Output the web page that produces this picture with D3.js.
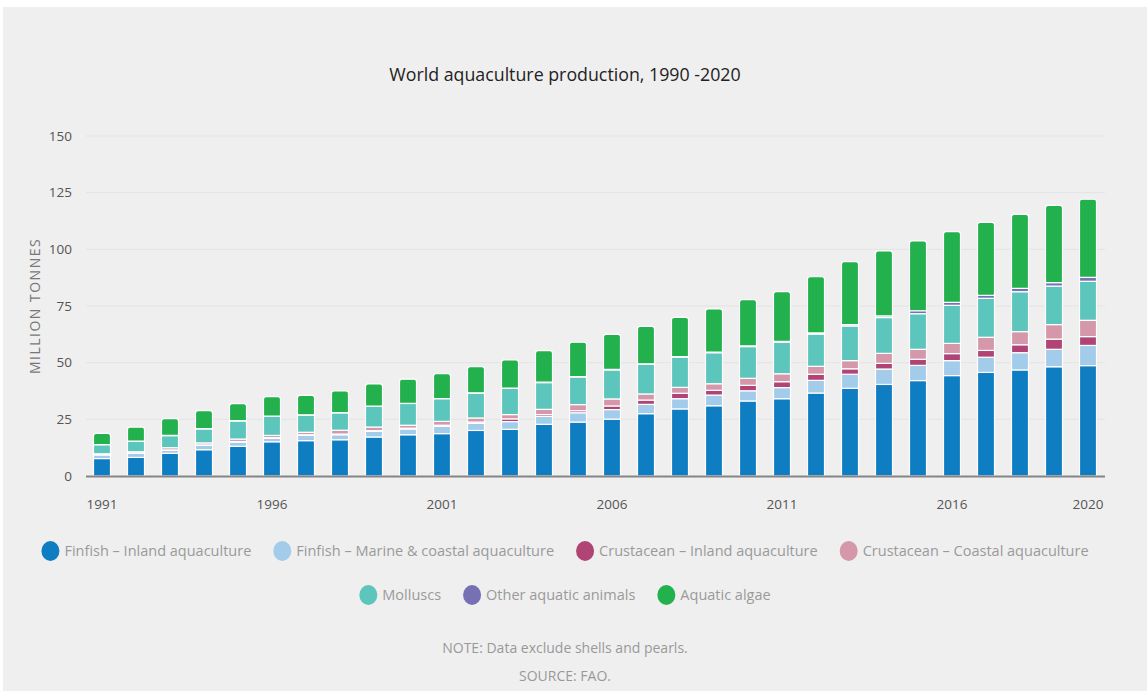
<!DOCTYPE html>
<html>
<head>
<meta charset="utf-8">
<script src="https://cdn.jsdelivr.net/npm/d3@7"></script>
<style>
  html, body { margin: 0; padding: 0; background: #fff; }
  svg { display: block; }
  text { font-family: "Open Sans", "DejaVu Sans", sans-serif; }
</style>
</head>
<body>
<svg id="chart" width="1147" height="691"></svg>
<script>
// years shown on the x axis
const years = d3.range(1991, 2021);
const tickYears = [1991, 1996, 2001, 2006, 2011, 2016, 2020];
const yTicks = [0, 25, 50, 75, 100, 125, 150];

// million tonnes
const finfishInland = [7.7, 8.2, 10.0, 11.6, 13.1, 15.1, 15.6, 16.0, 17.2, 18.2,
  18.7, 20.1, 20.6, 22.8, 23.8, 25.1, 27.5, 29.6, 31.0, 33.1,
  34.1, 36.6, 38.7, 40.4, 42.1, 44.3, 45.7, 46.8, 48.2, 48.7];
const finfishMarine = [1.6, 1.8, 1.3, 1.9, 1.9, 1.5, 2.3, 2.2, 2.5, 2.5,
  3.2, 3.1, 3.4, 3.5, 4.1, 4.2, 4.1, 4.5, 4.7, 4.5,
  4.9, 5.6, 6.2, 6.8, 6.7, 6.6, 6.7, 7.6, 7.7, 8.9];
const crustInland = [0.1, 0.1, 0.2, 0.2, 0.2, 0.3, 0.3, 0.3, 0.3, 0.4,
  0.5, 0.6, 1.2, 0.8, 0.9, 1.6, 1.9, 2.4, 2.1, 2.4,
  2.6, 2.7, 2.4, 2.5, 2.7, 3.1, 3.0, 3.5, 4.5, 3.9];
const crustCoastal = [0.4, 0.6, 1.0, 0.9, 1.1, 1.0, 1.1, 1.7, 1.6, 1.3,
  1.7, 1.8, 1.9, 2.3, 2.7, 3.1, 2.7, 2.6, 2.9, 3.1,
  3.5, 3.5, 3.6, 4.4, 4.4, 4.5, 5.8, 5.8, 6.4, 7.2];
const molluscs = [4.0, 4.6, 5.3, 6.2, 8.0, 8.4, 7.6, 7.7, 9.1, 9.6,
  10.0, 11.0, 11.6, 11.8, 12.2, 12.8, 13.1, 13.4, 13.7, 14.0,
  13.9, 14.2, 15.3, 15.8, 15.7, 16.8, 17.2, 17.6, 17.0, 17.2];
const otherAnimals = [0.1, 0.1, 0.1, 0.1, 0.1, 0.1, 0.1, 0.1, 0.1, 0.1,
  0.1, 0.1, 0.1, 0.2, 0.2, 0.2, 0.2, 0.2, 0.3, 0.3,
  0.4, 0.5, 0.6, 0.7, 1.3, 1.3, 1.3, 1.5, 1.5, 1.7];
const algae = [4.9, 6.2, 7.4, 7.9, 7.5, 8.6, 8.6, 9.5, 9.8, 10.6,
  10.9, 11.5, 12.4, 13.9, 15.1, 15.5, 16.5, 17.3, 19.0, 20.4,
  21.9, 24.8, 27.8, 28.7, 30.8, 31.2, 32.2, 32.6, 34.1, 34.5];

const seriesNames = [
  "Finfish – Inland aquaculture",
  "Finfish – Marine & coastal aquaculture",
  "Crustacean – Inland aquaculture",
  "Crustacean – Coastal aquaculture",
  "Molluscs",
  "Other aquatic animals",
  "Aquatic algae"
];
const seriesValues = [finfishInland, finfishMarine, crustInland, crustCoastal, molluscs, otherAnimals, algae];
const colors = ["#0f7dc2", "#a3cbea", "#b04474", "#d498aa", "#5cc5bc", "#7670b4", "#22b14c"];

// table for d3.stack
const table = years.map((yr, i) => {
  let row = { year: yr };
  seriesNames.forEach((name, k) => { row[name] = seriesValues[k][i]; });
  return row;
});

const svg = d3.select("#chart");

svg.append("rect")
  .attr("x", 3).attr("y", 7)
  .attr("width", 1144).attr("height", 684)
  .attr("fill", "#efefef");

svg.append("text")
  .attr("x", 565).attr("y", 81)
  .attr("text-anchor", "middle")
  .style("font-size", "17.8px")
  .style("fill", "#222")
  .text("World aquaculture production, 1990 -2020");

const x = d3.scaleBand()
  .domain(years)
  .range([85, 1105])
  .paddingInner(0.5)
  .paddingOuter(0.25);

const y = d3.scaleLinear()
  .domain([0, 150])
  .range([476, 136]);

// gridlines
svg.append("g")
  .selectAll("line")
  .data(yTicks.slice(1))
  .join("line")
  .attr("x1", 86).attr("x2", 1105)
  .attr("y1", d => y(d)).attr("y2", d => y(d))
  .attr("stroke", "#e3e3e3")
  .attr("stroke-width", 1);

// y axis labels
const yAxis = svg.append("g")
  .attr("transform", "translate(76,0)")
  .call(d3.axisLeft(y).tickValues(yTicks).tickSize(0).tickPadding(4));
yAxis.select(".domain").remove();
yAxis.selectAll("text")
  .style("font-size", "13.5px")
  .style("fill", "#555")
  .style("font-family", "'Open Sans', sans-serif");

svg.append("text")
  .attr("transform", "translate(40,306) rotate(-90)")
  .attr("text-anchor", "middle")
  .style("font-size", "14px")
  .style("letter-spacing", "1.5px")
  .style("fill", "#777")
  .text("MILLION TONNES");

// stacked bars
const stacked = d3.stack().keys(seriesNames)(table);
const topKey = seriesNames.length - 1;

function roundTop(x0, y0, w, h, r) {
  r = Math.min(r, h);
  return `M${x0},${y0 + h}V${y0 + r}Q${x0},${y0} ${x0 + r},${y0}H${x0 + w - r}Q${x0 + w},${y0} ${x0 + w},${y0 + r}V${y0 + h}Z`;
}

stacked.forEach((layer, k) => {
  const g = svg.append("g").attr("fill", colors[k]);
  if (k === topKey) {
    g.selectAll("path")
      .data(layer)
      .join("path")
      .attr("d", d => roundTop(x(d.data.year), y(d[1]), x.bandwidth(), y(d[0]) - y(d[1]), 2.5))
      .attr("stroke", "#fff")
      .attr("stroke-width", 1.2);
  } else {
    g.selectAll("rect")
      .data(layer)
      .join("rect")
      .attr("x", d => x(d.data.year))
      .attr("y", d => y(d[1]))
      .attr("width", x.bandwidth())
      .attr("height", d => Math.max(0, y(d[0]) - y(d[1])))
      .attr("stroke", "#fff")
      .attr("stroke-width", 1.2);
  }
});

// baseline
svg.append("line")
  .attr("x1", 86).attr("x2", 1105)
  .attr("y1", y(0) + 0.5).attr("y2", y(0) + 0.5)
  .attr("stroke", "#858585")
  .attr("stroke-width", 2);

// x axis labels
svg.append("g")
  .selectAll("text")
  .data(tickYears)
  .join("text")
  .attr("x", d => x(d) + x.bandwidth() / 2)
  .attr("y", 509)
  .attr("text-anchor", "middle")
  .style("font-size", "13.5px")
  .style("fill", "#555")
  .text(d => d);

// legend, two centred rows
const legendRows = [[0, 1, 2, 3], [4, 5, 6]];
const legendY = [551, 595];

legendRows.forEach((row, r) => {
  const g = svg.append("g");
  let offset = 0;
  row.forEach((k, j) => {
    const item = g.append("g").attr("transform", `translate(${offset},0)`);
    item.append("ellipse")
      .attr("cx", 9).attr("cy", 0)
      .attr("rx", 9).attr("ry", 10)
      .attr("fill", colors[k]);
    const t = item.append("text")
      .attr("x", 23).attr("y", 5)
      .style("font-size", "14.5px")
      .style("fill", "#9a9a9a")
      .text(seriesNames[k]);
    offset += 23 + t.node().getComputedTextLength() + 22;
  });
  const total = offset - 22;
  g.attr("transform", `translate(${565 - total / 2},${legendY[r]})`);
});

svg.append("text")
  .attr("x", 565).attr("y", 653)
  .attr("text-anchor", "middle")
  .style("font-size", "14px")
  .style("fill", "#999")
  .text("NOTE: Data exclude shells and pearls.");

svg.append("text")
  .attr("x", 565).attr("y", 681)
  .attr("text-anchor", "middle")
  .style("font-size", "14px")
  .style("fill", "#999")
  .text("SOURCE: FAO.");
</script>
</body>
</html>
